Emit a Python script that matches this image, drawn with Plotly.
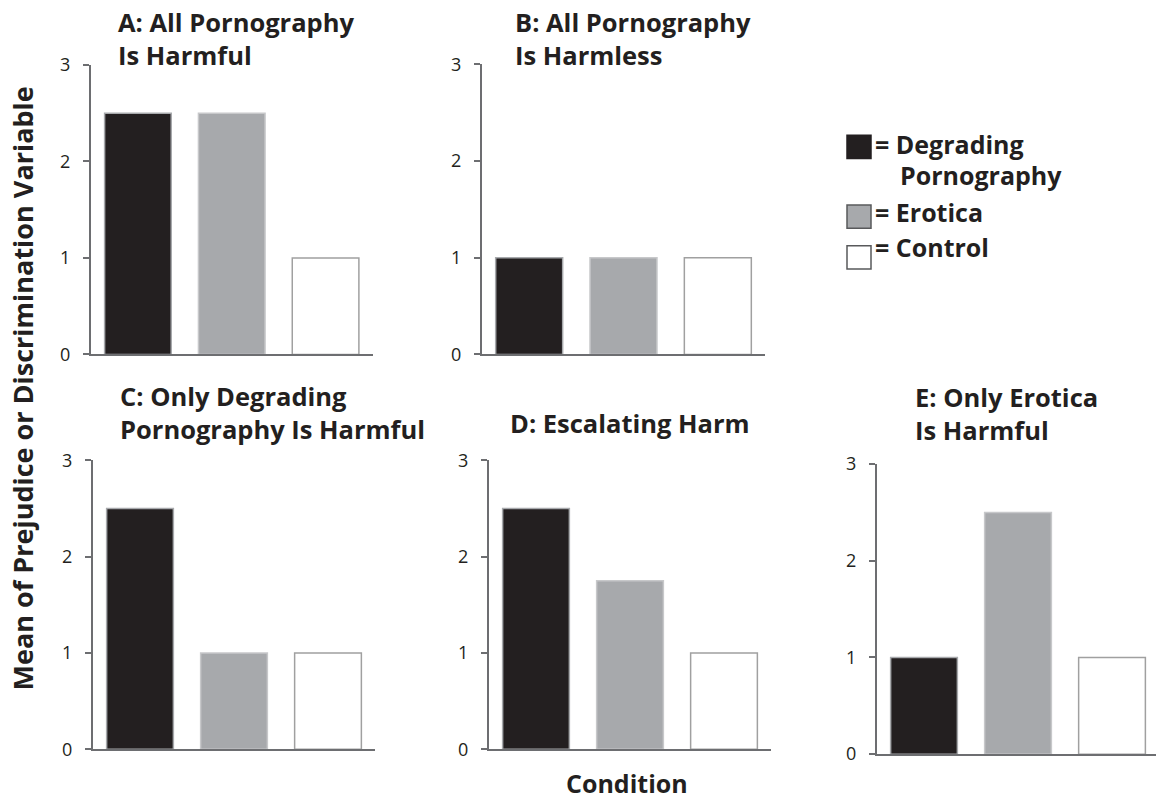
import plotly.graph_objects as go

W, H = 1156, 802

# ---------------- data ----------------
conditions = ["Degrading Pornography", "Erotica", "Control"]
panel_titles = [
    "A: All Pornography<br>Is Harmful",
    "B: All Pornography<br>Is Harmless",
    "C: Only Degrading<br>Pornography Is Harmful",
    "D: Escalating Harm",
    "E: Only Erotica<br>Is Harmful",
]
vals_A = [2.5, 2.5, 1.0]
vals_B = [1.0, 1.0, 1.0]
vals_C = [2.5, 1.0, 1.0]
vals_D = [2.5, 1.75, 1.0]
vals_E = [1.0, 2.5, 1.0]
y_ticks = [0, 1, 2, 3]
y_title = "Mean of Prejudice or Discrimination Variable"
x_title = "Condition"
legend_labels = ["= Degrading", "Pornography", "= Erotica", "= Control"]

# ---------------- style ----------------
FONT = "Open Sans"
TXT = "#231f20"
AX = "#6d6e71"
fills = ["#231f20", "#a7a9ac", "#ffffff"]
outlines = ["#a7a9ac", "#c7c8ca", "#a0a0a0"]

def px(x):
    return x / W

def py(y):
    return 1 - y / H

# panel boxes in pixels: x0, x1, ytop, ybottom, xrange
boxes = [
    (91, 372.5, 53.5, 352, [-0.5, 2.5]),
    (482, 765, 53, 352, [-0.5, 2.5]),
    (93, 375, 461, 759, [-0.5, 2.5]),
    (489, 771, 461, 759, [-0.5, 2.5]),
    (877, 1156, 465, 764, [-0.5, 2.468]),
]
values = [vals_A, vals_B, vals_C, vals_D, vals_E]

fig = go.Figure()
layout = dict(
    width=W, height=H,
    margin=dict(l=0, r=0, t=0, b=0),
    paper_bgcolor="white", plot_bgcolor="white",
    showlegend=False,
    font=dict(family=FONT, color=TXT),
)

for i, (b, v) in enumerate(zip(boxes, values)):
    n = "" if i == 0 else str(i + 1)
    x0, x1, yt, yb, xr = b
    fig.add_trace(go.Bar(
        x=conditions, y=v, width=0.71,
        marker=dict(color=fills, line=dict(color=outlines, width=1.5)),
        xaxis="x" + n, yaxis="y" + n, hoverinfo="skip",
    ))
    layout["xaxis" + n] = dict(
        domain=[px(x0), px(x1)], range=xr, anchor="y" + n,
        showline=True, linecolor=AX, linewidth=2,
        showticklabels=False, ticks="", showgrid=False, zeroline=False,
        fixedrange=True,
    )
    layout["yaxis" + n] = dict(
        domain=[py(yb), py(yt)], range=[0, 3], anchor="x" + n,
        showline=True, linecolor=AX, linewidth=2,
        tickvals=y_ticks, ticks="outside", ticklen=6, tickwidth=1.5, tickcolor=AX,
        ticklabelstandoff=9,
        tickfont=dict(family=FONT, size=18, color=TXT),
        showgrid=False, zeroline=False, fixedrange=True,
    )

annotations = []
# panel titles (x left, top y in px)
title_pos = [(116, -10), (513, -10), (118, 375), (508, 403), (913, 376)]
for t, (tx, ty) in zip(panel_titles, title_pos):
    annotations.append(dict(
        text="<b>" + t + "</b>", x=px(tx), y=py(ty), xref="paper", yref="paper",
        xanchor="left", yanchor="top", align="left", showarrow=False,
        font=dict(family=FONT, size=25.5, color=TXT),
    ))

# axis titles
annotations.append(dict(
    text="<b>" + y_title + "</b>", x=px(22), y=py(387), xref="paper", yref="paper",
    xanchor="center", yanchor="middle", textangle=-90, showarrow=False,
    font=dict(family=FONT, size=27, color=TXT),
))
annotations.append(dict(
    text="<b>" + x_title + "</b>", x=px(627), y=py(794), xref="paper", yref="paper",
    xanchor="center", yanchor="middle", showarrow=False,
    font=dict(family=FONT, size=25, color=TXT),
))

# legend text
leg_pos = [(873, 135), (898, 167), (873, 205), (873, 241)]
for t, (lx, ly) in zip(legend_labels, leg_pos):
    annotations.append(dict(
        text="<b>" + t + "</b>", x=px(lx), y=py(ly), xref="paper", yref="paper",
        xanchor="left", yanchor="middle", showarrow=False,
        font=dict(family=FONT, size=25, color=TXT),
    ))

# legend swatches
shapes = []
sw = [(126, "#231f20", "#231f20"), (198, "#a7a9ac", "#58595b"), (240, "#ffffff", "#58595b")]
for (sy, fc, lc) in sw:
    shapes.append(dict(
        type="rect", xref="paper", yref="paper",
        x0=px(847), x1=px(871), y0=py(sy + 24), y1=py(sy),
        fillcolor=fc, line=dict(color=lc, width=1.5),
    ))

layout["annotations"] = annotations
layout["shapes"] = shapes
fig.update_layout(**layout)

fig.write_html(
    "out.html",
    config={"displayModeBar": False},
    post_script="document.body.style.margin='0';document.body.style.overflow='hidden';",
)
